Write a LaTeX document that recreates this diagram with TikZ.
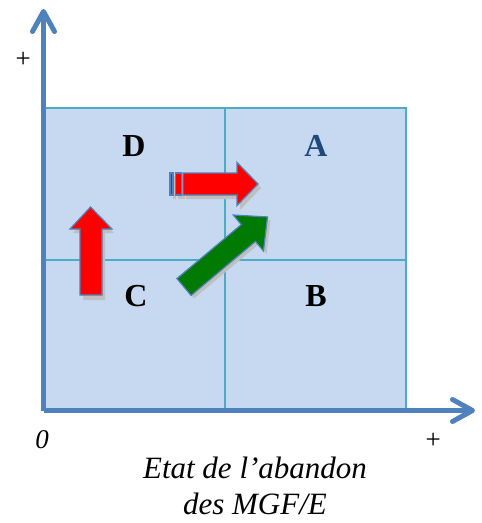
\documentclass[tikz,border=0pt]{standalone}
\usepackage{fontspec}
\setmainfont{Liberation Serif}
\usetikzlibrary{arrows.meta}
\definecolor{axisblue}{HTML}{4F81BD}
\definecolor{cellfill}{HTML}{C6D9F1}
\definecolor{cellline}{HTML}{4BACC6}
\definecolor{darkA}{HTML}{1F497D}
\definecolor{arrowred}{HTML}{FF0000}
\definecolor{arrowgreen}{HTML}{007A00}

\begin{document}
\begin{tikzpicture}[
    x=1pt, y=-1pt,
    axis/.style={line width=5pt, axisblue,
                 -{Straight Barb[length=20pt,width=22pt,line width=5pt,round]}},
    cell/.style={draw=cellline, line width=1.6pt, fill=cellfill},
    letter/.style={font=\fontsize{32}{34}\selectfont\bfseries},
    axlabel/.style={font=\fontsize{27}{29}\selectfont\itshape},
    blockarr/.style={draw=axisblue, line width=1.2pt, line join=miter},
    shadow/.style={fill=black!25, draw=none}
]
\useasboundingbox (0,0) rectangle (482,523);

% Quadrants
\node[cell, minimum width=182pt, minimum height=152pt, inner sep=0pt] (qD) at (134,184) {};
\node[cell, minimum width=181pt, minimum height=152pt, inner sep=0pt] (qA) at (315.5,184) {};
\node[cell, minimum width=182pt, minimum height=150pt, inner sep=0pt] (qC) at (134,335) {};
\node[cell, minimum width=181pt, minimum height=150pt, inner sep=0pt] (qB) at (315.5,335) {};

% Axes
\coordinate (origin) at (43.5,410.5);
\coordinate (ytip) at (43.5,9);
\coordinate (xtip) at (475,410.5);
\draw[axis] (origin) -- (ytip);
\draw[axis] (origin) -- (xtip);

% Labels of the quadrants
\node[letter] (labD) at (134,146) {D};
\node[letter, text=darkA] (labA) at (316,146) {A};
\node[letter] (labC) at (136,296) {C};
\node[letter] (labB) at (316,296) {B};

% Axis labels
\node[axlabel] (yplus) at (23,60) {+};
\node[axlabel] (zero) at (42,440) {0};
\node[axlabel] (xplus) at (433,441) {+};
\node[axlabel, font=\fontsize{31}{36}\selectfont\itshape, align=center]
    (xtitle) at (255,486) {Etat de l’abandon\\des MGF/E};

% Red arrow C -> D
\fill[shadow] (83,233) -- (73,233) -- (93,212) -- (114,233) -- (105,233) -- (105,300) -- (83,300) -- cycle;
\draw[blockarr, fill=arrowred] (80,229) -- (70,229) -- (90.5,207) -- (112,229) -- (102,229)
    -- (102,295) -- (80,295) -- cycle;

% Red arrow D -> A
\fill[shadow] (173,176) rectangle (176,199);
\fill[shadow] (178,176) rectangle (185,199);
\fill[shadow] (186,176) -- (240,176) -- (240,166) -- (261,188) -- (240,210) -- (240,199) -- (186,199) -- cycle;
\draw[blockarr, fill=arrowred] (170,173) rectangle (173,195);
\draw[blockarr, fill=arrowred] (175.5,173) rectangle (181.5,195);
\draw[blockarr, fill=arrowred] (183,173) -- (237,173) -- (237,162.5) -- (258,184) -- (237,205.5)
    -- (237,195) -- (183,195) -- cycle;

% Green arrow C -> A
\begin{scope}[shift={(187,290)}, rotate=40]
  \fill[shadow] (0,-11) -- (84,-11) -- (84,-23.5) -- (109,0) -- (84,23.5) -- (84,11) -- (0,11) -- cycle;
\end{scope}
\begin{scope}[shift={(184,287)}, rotate=40]
  \draw[blockarr, fill=arrowgreen] (0,-11) -- (84,-11) -- (84,-23.5) -- (109,0) -- (84,23.5)
      -- (84,11) -- (0,11) -- cycle;
\end{scope}
\end{tikzpicture}
\end{document}
